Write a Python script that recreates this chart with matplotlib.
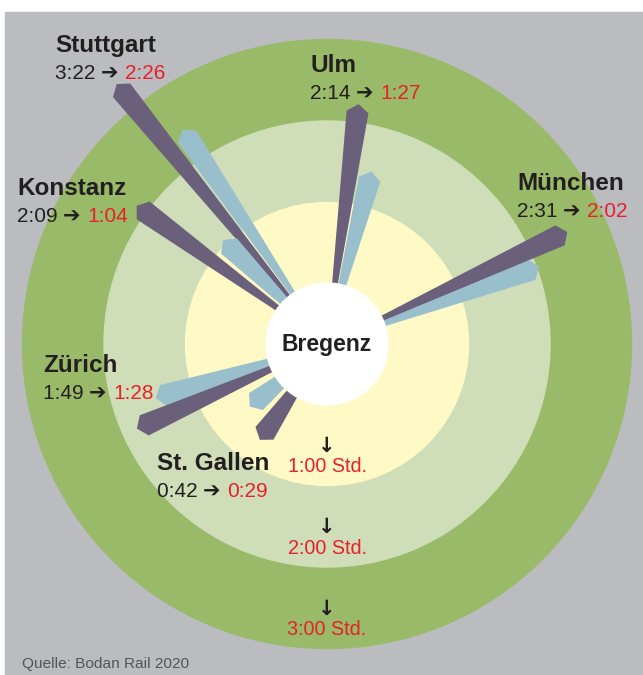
import matplotlib
matplotlib.use("Agg")
import numpy as np
import matplotlib.pyplot as plt
from matplotlib.patches import Circle, Polygon, Rectangle

# travel times from Bregenz (hours:minutes), today -> after Bodan Rail 2020
cities = ["Stuttgart", "Ulm", "München", "Konstanz", "Zürich", "St. Gallen"]
time_now = ["3:22", "2:14", "2:31", "2:09", "1:49", "0:42"]
time_new = ["2:26", "1:27", "2:02", "1:04", "1:28", "0:29"]
ring_hours = [3, 2, 1]
ring_labels = ["3:00 Std.", "2:00 Std.", "1:00 Std."]
source = "Quelle: Bodan Rail 2020"


def to_hours(s):
    h, m = s.split(":")
    return int(h) + int(m) / 60.0


# layout (pixel based, image is 643 x 675)
W, H = 643, 675
CX, CY = 327, 344          # Bregenz in pixels from top-left
R0, K = 60, 81.5           # radius of 0 h and pixels per hour
dir_now = [129, 82.5, 25, 144, 204, 235]      # bar directions, degrees
dir_new = [124, 75.5, 20, 135, 197.5, 219]
label_pos = [(55, 52), (310, 72), (517, 190), (17, 195), (43, 372), (157, 470)]

grey = "#bbbcbf"
ring_cols = ["#99ba68", "#cfdeb8", "#fff9c5"]
purple = "#6a607c"
blue = "#99bfcd"
dark = "#231f20"
red = "#e8202a"

plt.rcParams["font.family"] = ["Liberation Sans", "DejaVu Sans"]

fig = plt.figure(figsize=(W / 100, H / 100), dpi=100)
fig.patch.set_facecolor("white")
ax = fig.add_axes([0, 0, 1, 1])
ax.set_xlim(-CX, W - CX)
ax.set_ylim(-(H - CY), CY)
ax.axis("off")


def px(x, y):
    return x - CX, CY - y


def radius(h):
    return R0 + K * h


ax.add_patch(Rectangle(px(5, H), W - 5, H - 12, color=grey, zorder=0))
for h, c in zip(ring_hours, ring_cols):
    ax.add_patch(Circle((0, 0), radius(h), color=c, zorder=1))


def bar(hours, deg, col):
    r = radius(hours)
    t = np.radians(deg)
    u = np.array([np.cos(t), np.sin(t)])
    n = np.array([-np.sin(t), np.cos(t)])
    hw, cap = 11, 8
    pts = [(0, 0), (r - cap) * u + hw * n, r * u, (r - cap) * u - hw * n]
    ax.add_patch(Polygon(pts, closed=True, color=col, lw=0, zorder=2))


for i in range(len(cities)):
    bar(to_hours(time_new[i]), dir_new[i], blue)
    bar(to_hours(time_now[i]), dir_now[i], purple)

ax.add_patch(Circle((0, 0), 61, color="white", zorder=3))
ax.text(0, 0, "Bregenz", ha="center", va="center", fontsize=16.5,
        fontweight="bold", color=dark, zorder=4)

for i, name in enumerate(cities):
    x, y = label_pos[i]
    ax.text(*px(x, y), name, fontsize=17.5, fontweight="bold", color=dark,
            ha="left", va="baseline", zorder=4)
    t1 = ax.text(*px(x, y + 27), time_now[i] + " ", fontsize=15, color=dark,
                 ha="left", va="baseline", zorder=4)
    t2 = ax.annotate("\u2794 ", xy=(1, 0), xycoords=t1, fontsize=15,
                     color=dark, va="bottom", ha="left", zorder=4,
                     family=["DejaVu Sans"])
    ax.annotate(time_new[i], xy=(1, 0), xycoords=t2, fontsize=15, color=red,
                va="bottom", ha="left", zorder=4)

for h, lab in zip(ring_hours, ring_labels):
    r = radius(h)
    ax.text(0, -(r - 40), "\u2193", ha="center", va="center", fontsize=15,
            fontweight="bold", color=dark, zorder=4, family=["DejaVu Sans"])
    ax.text(0, -(r - 19), lab, ha="center", va="center", fontsize=14.2,
            color=red, zorder=4)

ax.text(*px(22, 668), source, fontsize=11.1, color="#555555",
        ha="left", va="baseline", zorder=4)

fig.savefig("out.png", dpi=100, facecolor=fig.get_facecolor())
